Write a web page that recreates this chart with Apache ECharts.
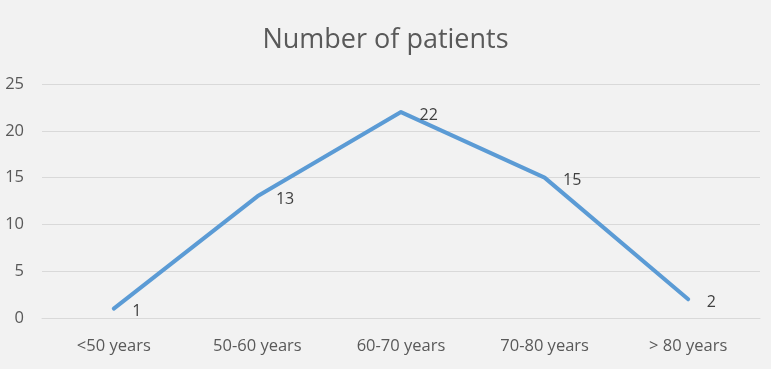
<!DOCTYPE html>
<html><head><meta charset="utf-8">
<script src="https://cdn.jsdelivr.net/npm/echarts@6/dist/echarts.min.js"></script>
<style>html,body{margin:0;padding:0;background:#f2f2f2}#c{width:771px;height:369px}</style>
</head><body><div id="c"></div>
<script>
var categories = ['<50 years', '50-60 years', '60-70 years', '70-80 years', '> 80 years'];
var patients = [1, 13, 22, 15, 2];
var titleText = 'Number of patients';
var font = '"Open Sans", "Liberation Sans", sans-serif';
var chart = echarts.init(document.getElementById('c'));
chart.setOption({
  backgroundColor: '#f2f2f2',
  animation: false,
  title: { text: titleText, left: 'center', top: 22,
    textStyle: { fontFamily: font, fontSize: 27, fontWeight: 'normal', color: '#595959' } },
  grid: { left: 42, right: 11, top: 84, bottom: 51 },
  xAxis: { type: 'category', data: categories, boundaryGap: true,
    axisLine: { lineStyle: { color: '#d9d9d9', width: 1 } },
    axisTick: { show: false },
    axisLabel: { fontFamily: font, fontSize: 16.5, color: '#595959', margin: 20 } },
  yAxis: { type: 'value', min: 0, max: 25, interval: 5,
    axisLine: { show: false }, axisTick: { show: false },
    splitLine: { lineStyle: { color: '#d9d9d9', width: 1 } },
    axisLabel: { fontFamily: font, fontSize: 16.5, color: '#595959', margin: 18, align: 'right' } },
  series: [{ type: 'line', data: patients, symbol: 'circle', symbolSize: 1, showSymbol: true,
    itemStyle: { color: '#5b9bd5' },
    lineStyle: { color: '#5b9bd5', width: 4, join: 'round', cap: 'round' },
    label: { show: true, position: 'right', distance: 18, offset: [0, 3],
      fontFamily: font, fontSize: 16, color: '#404040' } }]
});
</script></body></html>
